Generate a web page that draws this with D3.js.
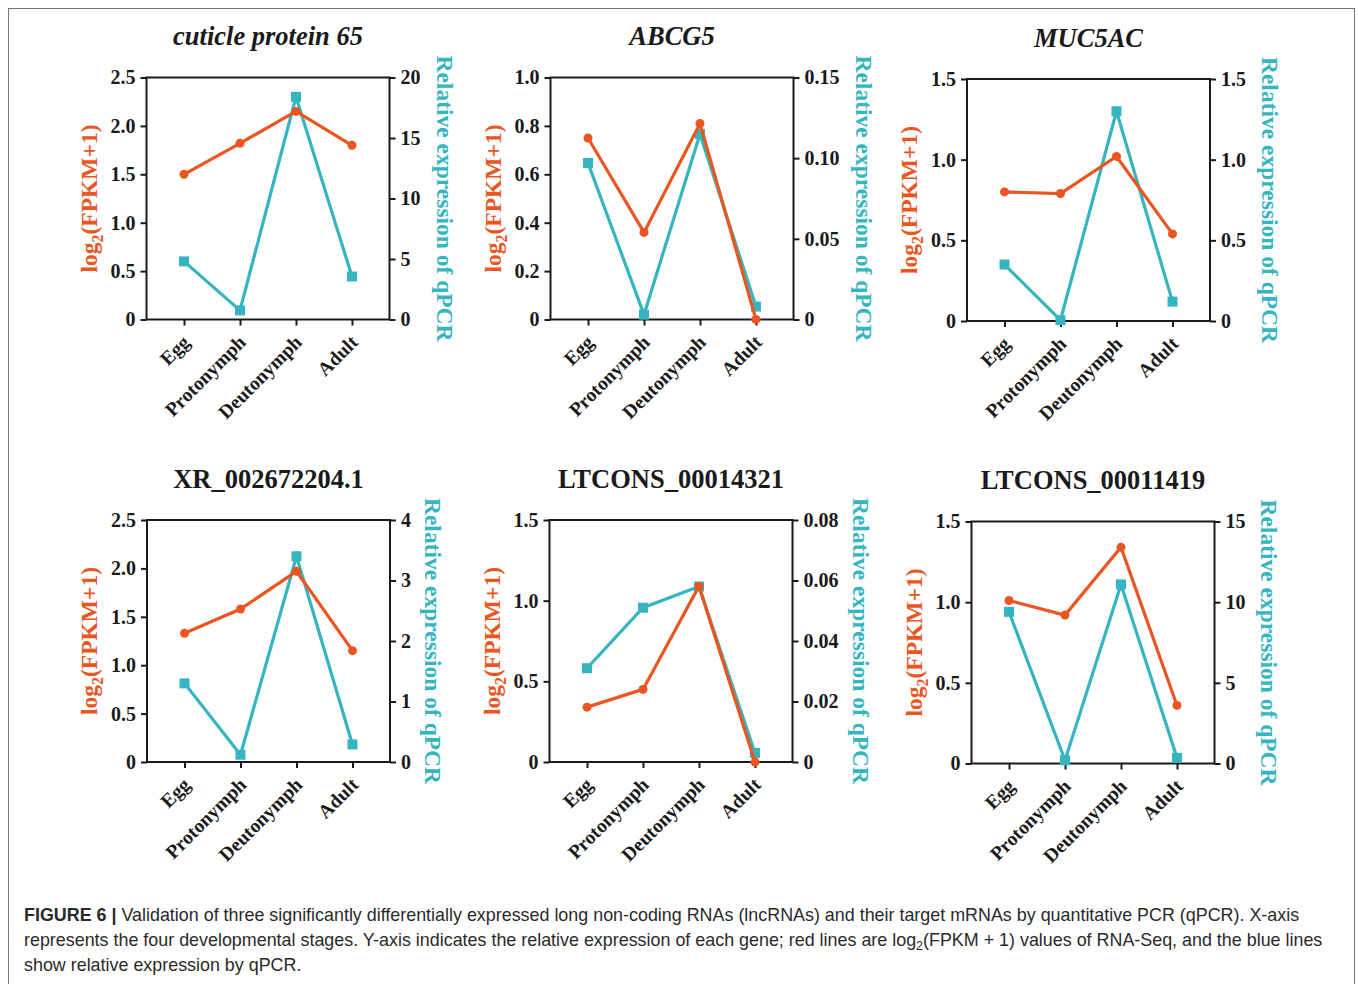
<!DOCTYPE html>
<html>
<head>
<meta charset="utf-8">
<script src="https://cdn.jsdelivr.net/npm/d3@7"></script>
<style>
  body { margin: 0; background: #fff; }
  svg { display: block; }
  .serif { font-family: 'Liberation Serif', 'Times New Roman', serif; }
</style>
</head>
<body>
<div id="canvas"></div>
<script>
// stages on the x axis
var stages = ['Egg', 'Protonymph', 'Deutonymph', 'Adult'];

// panel titles (first row is italic)
var genes = ['cuticle protein 65', 'ABCG5', 'MUC5AC', 'XR_002672204.1', 'LTCONS_00014321', 'LTCONS_00011419'];
var italicTitle = [true, true, true, false, false, false];

// log2(FPKM+1), red line, left axis
var fpkm = [
  [1.50, 1.82, 2.15, 1.80],
  [0.75, 0.36, 0.81, 0.00],
  [0.80, 0.79, 1.02, 0.54],
  [1.33, 1.58, 1.97, 1.15],
  [0.34, 0.45, 1.09, 0.00],
  [1.01, 0.92, 1.34, 0.36]
];

// relative expression of qPCR, blue line, right axis
var qpcr = [
  [4.8, 0.75, 18.4, 3.55],
  [0.097, 0.003, 0.115, 0.008],
  [0.35, 0.005, 1.30, 0.12],
  [1.30, 0.12, 3.40, 0.29],
  [0.031, 0.051, 0.058, 0.003],
  [9.4, 0.2, 11.1, 0.35]
];

// tick values
var leftTicks = [
  [0, 0.5, 1.0, 1.5, 2.0, 2.5],
  [0, 0.2, 0.4, 0.6, 0.8, 1.0],
  [0, 0.5, 1.0, 1.5],
  [0, 0.5, 1.0, 1.5, 2.0, 2.5],
  [0, 0.5, 1.0, 1.5],
  [0, 0.5, 1.0, 1.5]
];
var rightTicks = [
  [0, 5, 10, 15, 20],
  [0, 0.05, 0.10, 0.15],
  [0, 0.5, 1.0, 1.5],
  [0, 1, 2, 3, 4],
  [0, 0.02, 0.04, 0.06, 0.08],
  [0, 5, 10, 15]
];
var leftDecimals = [1, 1, 1, 1, 1, 1];
var rightDecimals = [0, 2, 1, 0, 2, 0];

var captionLines = [
  ['FIGURE 6 | ', 'Validation of three significantly differentially expressed long non-coding RNAs (lncRNAs) and their target mRNAs by quantitative PCR (qPCR). X-axis'],
  ['', 'represents the four developmental stages. Y-axis indicates the relative expression of each gene; red lines are log', '2', '(FPKM + 1) values of RNA-Seq, and the blue lines'],
  ['', 'show relative expression by qPCR.']
];

var red = '#EA5522', teal = '#35B5BF', ink = '#1a1a1a';

var W = 1358, H = 984;
var svg = d3.select('#canvas').append('svg').attr('width', W).attr('height', H);

// frame round the figure
svg.append('rect')
  .attr('x', 8.5).attr('y', 8.5).attr('width', 1346).attr('height', H + 20)
  .attr('fill', 'none').attr('stroke', '#777').attr('stroke-width', 1);

// panel layout
var panelLeft = [146.5, 550.5, 967, 147, 549.5, 971.5];
var panelTop = [77.5, 77.5, 79, 520, 520, 521.5];
var rightTitleGap = [47, 62, 52, 35, 60, 46];
var pw = 243, ph = 242;

function fmt(dec){
  return function(d){ return d === 0 ? '0' : d3.format('.' + dec + 'f')(d); };
}

genes.forEach(function(g, i){
  var L = panelLeft[i], T = panelTop[i];
  var plot = svg.append('g').attr('class', 'serif').attr('transform', 'translate(' + L + ',' + T + ')');

  var x = d3.scalePoint().domain(stages).range([0, pw]).padding(0.67);
  var yL = d3.scaleLinear().domain([0, d3.max(leftTicks[i])]).range([ph, 0]);
  var yR = d3.scaleLinear().domain([0, d3.max(rightTicks[i])]).range([ph, 0]);

  // title
  plot.append('text')
    .attr('x', pw / 2).attr('y', -32.5)
    .attr('text-anchor', 'middle')
    .style('font-size', '26.5px').style('font-weight', 'bold')
    .style('font-style', italicTitle[i] ? 'italic' : 'normal')
    .attr('fill', ink)
    .text(g);

  // axes
  var la = plot.append('g').call(d3.axisLeft(yL).tickValues(leftTicks[i]).tickFormat(fmt(leftDecimals[i])).tickSize(6).tickPadding(5));
  var ra = plot.append('g').attr('transform', 'translate(' + pw + ',0)')
    .call(d3.axisRight(yR).tickValues(rightTicks[i]).tickFormat(fmt(rightDecimals[i])).tickSize(6).tickPadding(5));
  var ba = plot.append('g').attr('transform', 'translate(0,' + ph + ')')
    .call(d3.axisBottom(x).tickSize(6).tickFormat(''));

  [la, ra, ba].forEach(function(a){
    a.select('.domain').remove();
    a.selectAll('line').attr('stroke', ink).attr('stroke-width', 2);
    a.selectAll('text')
      .style('font-family', "'Liberation Serif', 'Times New Roman', serif")
      .style('font-size', '20px').style('font-weight', 'bold').attr('fill', ink);
  });

  plot.append('rect')
    .attr('width', pw).attr('height', ph)
    .attr('fill', 'none').attr('stroke', ink).attr('stroke-width', 2);

  // rotated stage labels
  plot.selectAll('.stage')
    .data(stages)
    .enter()
    .append('text')
    .attr('class', 'stage')
    .attr('transform', function(d){ return 'translate(' + (x(d) + 7) + ',' + (ph + 24) + ') rotate(-45)'; })
    .attr('text-anchor', 'end')
    .style('font-size', '19.5px').style('font-weight', 'bold')
    .attr('fill', ink)
    .text(function(d){ return d; });

  // axis titles
  var lt = plot.append('text')
    .attr('transform', 'translate(-50,' + (ph / 2) + ') rotate(-90)')
    .attr('text-anchor', 'middle')
    .style('font-size', '23.5px').style('font-weight', 'bold')
    .attr('fill', red);
  lt.append('tspan').text('log');
  lt.append('tspan').attr('dy', 6).style('font-size', '16px').text('2');
  lt.append('tspan').attr('dy', -6).text('(FPKM+1)');

  plot.append('text')
    .attr('transform', 'translate(' + (pw + rightTitleGap[i]) + ',' + (ph / 2) + ') rotate(90)')
    .attr('text-anchor', 'middle')
    .style('font-size', '23.5px').style('font-weight', 'bold')
    .attr('fill', teal)
    .text('Relative expression of qPCR');

  // qPCR line (under)
  var qd = stages.map(function(s, k){ return {s: s, v: qpcr[i][k]}; });
  plot.append('path')
    .datum(qd)
    .attr('fill', 'none').attr('stroke', teal).attr('stroke-width', 3.2)
    .attr('d', d3.line().x(function(d){ return x(d.s); }).y(function(d){ return yR(d.v); }));
  plot.selectAll('.sq')
    .data(qd)
    .enter()
    .append('rect')
    .attr('class', 'sq')
    .attr('x', function(d){ return x(d.s) - 5; })
    .attr('y', function(d){ return yR(d.v) - 5; })
    .attr('width', 10).attr('height', 10)
    .attr('fill', teal);

  // FPKM line
  var fd = stages.map(function(s, k){ return {s: s, v: fpkm[i][k]}; });
  plot.append('path')
    .datum(fd)
    .attr('fill', 'none').attr('stroke', red).attr('stroke-width', 3.2)
    .attr('d', d3.line().x(function(d){ return x(d.s); }).y(function(d){ return yL(d.v); }));
  plot.selectAll('.dot')
    .data(fd)
    .enter()
    .append('circle')
    .attr('class', 'dot')
    .attr('cx', function(d){ return x(d.s); })
    .attr('cy', function(d){ return yL(d.v); })
    .attr('r', 4.5)
    .attr('fill', red);
});

// caption
var cap = svg.append('g')
  .style('font-family', "'Liberation Sans', Arial, Helvetica, sans-serif")
  .style('font-size', '17.9px').attr('fill', '#2a2a2a');
captionLines.forEach(function(line, j){
  var t = cap.append('text').attr('x', 24).attr('y', 921 + j * 25);
  if (line[0]) t.append('tspan').style('font-weight', 'bold').text(line[0]);
  t.append('tspan').text(line[1]);
  if (line.length > 2) {
    t.append('tspan').attr('dy', 4).style('font-size', '12.5px').text(line[2]);
    t.append('tspan').attr('dy', -4).text(line[3]);
  }
});
</script>
</body>
</html>
